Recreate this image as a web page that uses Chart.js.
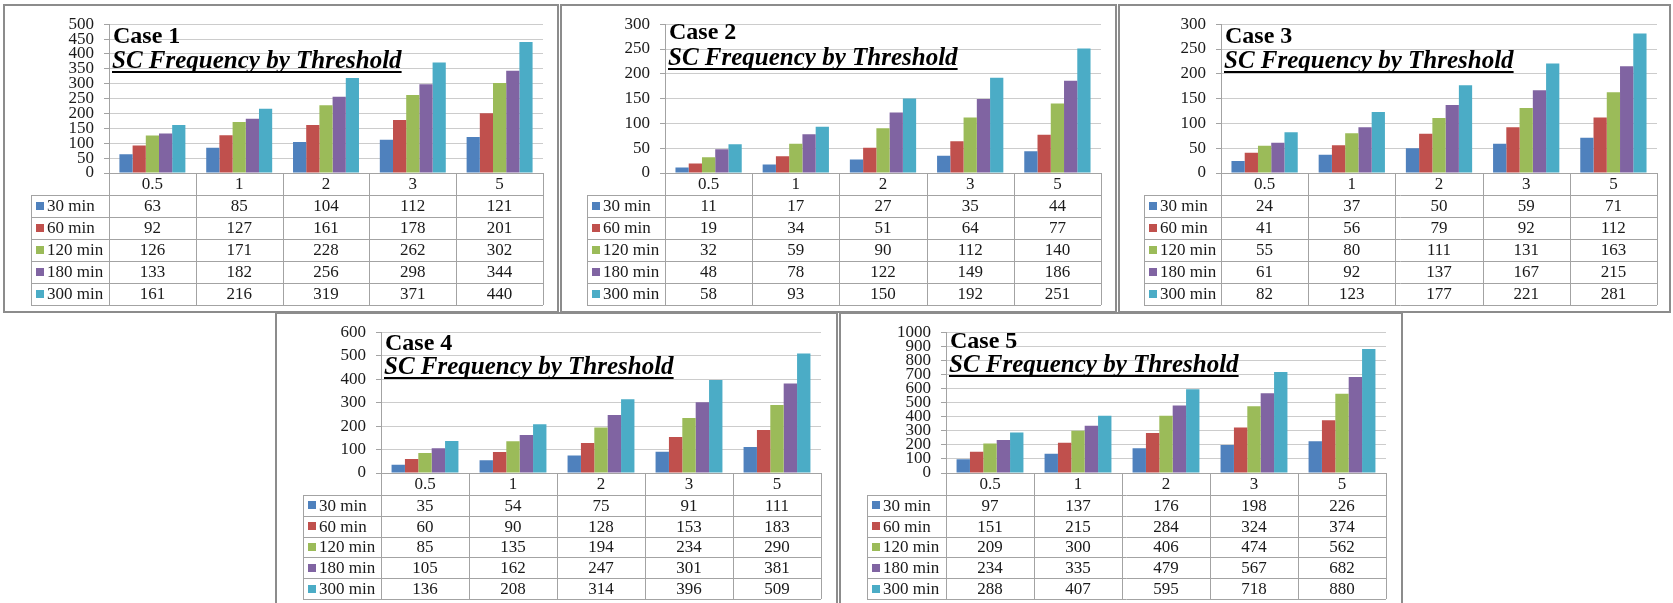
<!DOCTYPE html>
<html>
<head>
<script src="https://cdn.jsdelivr.net/npm/chart.js@4.4.0/dist/chart.umd.min.js"></script>
<title>SC Frequency by Threshold</title>
<style>
body { margin: 0; background: #fff; }
.panel { position: absolute; box-sizing: border-box; border: 2px solid #8c8c8c; }
canvas { position: absolute; }
</style>
</head>
<body>
<script>
// thresholds on the x axis, one column of the data table each
var thresholds = ['0.5', '1', '2', '3', '5'];
var durations = ['30 min', '60 min', '120 min', '180 min', '300 min'];

// rows = durations, columns = thresholds
var case1 = [
    [63, 85, 104, 112, 121],
    [92, 127, 161, 178, 201],
    [126, 171, 228, 262, 302],
    [133, 182, 256, 298, 344],
    [161, 216, 319, 371, 440]
];
var case2 = [
    [11, 17, 27, 35, 44],
    [19, 34, 51, 64, 77],
    [32, 59, 90, 112, 140],
    [48, 78, 122, 149, 186],
    [58, 93, 150, 192, 251]
];
var case3 = [
    [24, 37, 50, 59, 71],
    [41, 56, 79, 92, 112],
    [55, 80, 111, 131, 163],
    [61, 92, 137, 167, 215],
    [82, 123, 177, 221, 281]
];
var case4 = [
    [35, 54, 75, 91, 111],
    [60, 90, 128, 153, 183],
    [85, 135, 194, 234, 290],
    [105, 162, 247, 301, 381],
    [136, 208, 314, 396, 509]
];
var case5 = [
    [97, 137, 176, 198, 226],
    [151, 215, 284, 324, 374],
    [209, 300, 406, 474, 562],
    [234, 335, 479, 567, 682],
    [288, 407, 595, 718, 880]
];
var cases = [case1, case2, case3, case4, case5];
var caseNames = ['Case 1', 'Case 2', 'Case 3', 'Case 4', 'Case 5'];
var subtitle = 'SC Frequency by Threshold';

// y axis range of each panel
var yMax = [500, 300, 300, 600, 1000];
var yStep = [50, 50, 50, 100, 100];

var colours = ['#4f81bd', '#c0504d', '#9bbb59', '#8064a2', '#4bacc6'];

// page layout of the five panels (page pixels)
var panels = [
    {box: [3, 4, 559, 313],    area: [109, 22, 543, 173],   legend: 31,   head: 22, row: 22,   caseY: 43,  subY: 68},
    {box: [560, 4, 1117, 313], area: [665, 22, 1101, 173],  legend: 587,  head: 22, row: 22,   caseY: 39,  subY: 65},
    {box: [1118, 4, 1671, 313], area: [1221, 22, 1657, 173], legend: 1144, head: 22, row: 22,   caseY: 43,  subY: 68},
    {box: [275, 312, 838, 612], area: [381, 328, 821, 473],  legend: 303,  head: 22, row: 20.8, caseY: 350, subY: 374},
    {box: [839, 312, 1403, 612], area: [946, 327, 1386, 473], legend: 867,  head: 22, row: 20.8, caseY: 348, subY: 372}
];

var serif = '"Liberation Serif", "Times New Roman", serif';
var ink = '#1a1a1a';
var lineGrey = '#a3a3a3';

function drawSheet(chart, p, k) {
    var ctx = chart.ctx;
    var a = chart.chartArea;
    var x = chart.scales.x;
    var ox = p.box[0], oy = p.box[1];
    var n = thresholds.length;
    var half = (x.getPixelForValue(1) - x.getPixelForValue(0)) / 2;
    var edges = [];
    for (var i = 0; i < n; i++) edges.push(x.getPixelForValue(i) - half);
    edges.push(x.getPixelForValue(n - 1) + half);

    var legLeft = p.legend - ox;
    var headBottom = a.bottom + p.head;
    var tableBottom = headBottom + p.row * durations.length;

    ctx.save();
    ctx.strokeStyle = lineGrey;
    ctx.lineWidth = 1;
    ctx.beginPath();
    for (var r = 0; r <= durations.length; r++) {
        var yy = Math.round(headBottom + r * p.row) + 0.5;
        ctx.moveTo(legLeft, yy);
        ctx.lineTo(edges[n], yy);
    }
    for (var c = 0; c <= n; c++) {
        var xx = Math.round(edges[c]) + 0.5;
        ctx.moveTo(xx, a.bottom);
        ctx.lineTo(xx, tableBottom);
    }
    ctx.moveTo(legLeft + 0.5, headBottom);
    ctx.lineTo(legLeft + 0.5, tableBottom);
    ctx.stroke();

    ctx.fillStyle = ink;
    ctx.font = '17px ' + serif;
    ctx.textBaseline = 'middle';
    ctx.textAlign = 'center';
    for (c = 0; c < n; c++) {
        ctx.fillText(thresholds[c], x.getPixelForValue(c), a.bottom + p.head / 2 + 1);
    }
    var rows = cases[k];
    for (r = 0; r < durations.length; r++) {
        var cy = headBottom + (r + 0.5) * p.row + 1;
        ctx.textAlign = 'center';
        ctx.fillStyle = ink;
        for (c = 0; c < n; c++) {
            ctx.fillText(String(rows[r][c]), x.getPixelForValue(c), cy);
        }
        ctx.fillStyle = colours[r];
        ctx.fillRect(legLeft + 5, Math.round(cy - 5), 8, 8);
        ctx.fillStyle = ink;
        ctx.textAlign = 'left';
        ctx.fillText(durations[r], legLeft + 16, cy);
    }

    // titles sit inside the plot, over the gridlines
    ctx.textBaseline = 'alphabetic';
    ctx.textAlign = 'left';
    ctx.fillStyle = '#000';
    ctx.font = 'bold 24px ' + serif;
    ctx.fillText(caseNames[k], a.left + 4, p.caseY - oy);
    ctx.font = 'italic bold 25px ' + serif;
    ctx.fillText(subtitle, a.left + 3, p.subY - oy);
    var w = ctx.measureText(subtitle).width;
    ctx.fillRect(a.left + 3, p.subY - oy + 3, w, 2);
    ctx.restore();
}

panels.forEach(function(p, k) {
    var w = p.box[2] - p.box[0], h = p.box[3] - p.box[1];
    var frame = document.createElement('div');
    frame.className = 'panel';
    frame.style.left = p.box[0] + 'px';
    frame.style.top = p.box[1] + 'px';
    frame.style.width = w + 'px';
    frame.style.height = h + 'px';
    document.body.appendChild(frame);

    var cv = document.createElement('canvas');
    cv.width = w;
    cv.height = h;
    cv.style.left = p.box[0] + 'px';
    cv.style.top = p.box[1] + 'px';
    document.body.appendChild(cv);

    var datasets = durations.map(function(d, s) {
        return {
            label: d,
            data: cases[k][s],
            backgroundColor: colours[s],
            borderWidth: 0,
            barPercentage: 1.0,
            categoryPercentage: 0.76
        };
    });

    new Chart(cv.getContext('2d'), {
        type: 'bar',
        data: { labels: thresholds, datasets: datasets },
        options: {
            responsive: false,
            animation: false,
            devicePixelRatio: 1,
            layout: {
                padding: {
                    left: 0,
                    top: p.area[1] - p.box[1],
                    right: p.box[2] - p.area[2],
                    bottom: p.box[3] - p.area[3]
                }
            },
            scales: {
                x: { display: false, offset: true },
                y: {
                    min: 0,
                    max: yMax[k],
                    afterFit: function(scale) { scale.width = p.area[0] - p.box[0]; },
                    ticks: {
                        stepSize: yStep[k],
                        autoSkip: false,
                        padding: 10,
                        color: ink,
                        font: { family: serif, size: 17 },
                        callback: function(v) { return String(v); }
                    },
                    grid: {
                        color: function(c) { return c.tick && c.tick.value === 0 ? lineGrey : '#cccccc'; },
                        tickColor: lineGrey,
                        tickLength: 5
                    },
                    border: { display: true, color: lineGrey }
                }
            },
            plugins: {
                legend: { display: false },
                tooltip: { enabled: false }
            }
        },
        plugins: [{ id: 'sheet', afterDraw: function(chart) { drawSheet(chart, p, k); } }]
    });
});
</script>
</body>
</html>
